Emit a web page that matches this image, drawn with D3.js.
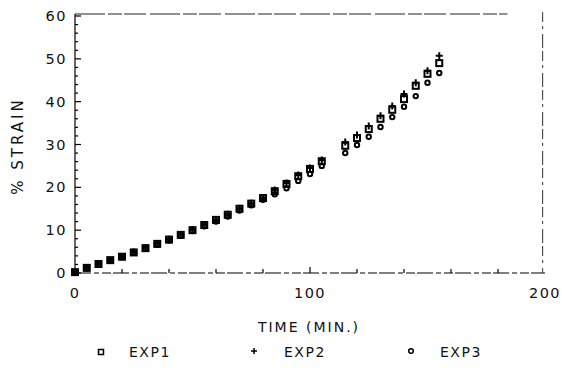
<!DOCTYPE html>
<html>
<head>
<meta charset="utf-8">
<script src="https://cdn.jsdelivr.net/npm/d3@7"></script>
<style>
  body{margin:0;background:#fff;}
  svg text{font-family:"DejaVu Sans",sans-serif;fill:#111;}
</style>
</head>
<body>
<div id="chart"></div>
<script>
// time (min) for every reading, t=110 has no reading
var times=[0,5,10,15,20,25,30,35,40,45,50,55,60,65,70,75,80,85,90,95,100,105,115,120,125,130,135,140,145,150,155];
var exp1=[0.2,1.2,2.1,3.0,3.8,4.8,5.8,6.8,7.8,8.9,10.0,11.2,12.4,13.6,15.0,16.2,17.5,19.1,20.8,22.6,24.3,26.1,29.7,31.5,33.6,36.0,38.1,40.6,43.7,46.5,49.0];
var exp2=[0.2,1.2,2.1,3.0,3.8,4.9,5.9,6.9,7.9,9.0,10.1,11.3,12.5,13.7,15.1,16.3,17.6,19.4,21.0,22.9,24.5,26.4,30.6,32.2,34.3,36.7,39.0,41.8,44.4,47.2,50.7];
var exp3=[0.2,1.1,2.0,2.9,3.7,4.7,5.7,6.6,7.6,8.7,9.8,10.9,12.0,13.2,14.6,15.8,17.1,18.4,19.8,21.5,23.1,25.0,28.0,29.9,31.8,34.1,36.4,38.8,41.3,44.4,46.7];
var yTicks=[0,10,20,30,40,50,60];
var xTicks=[0,100,200];
var seriesNames=['EXP1','EXP2','EXP3'];

var width=562, height=378;
var svg=d3.select('#chart').append('svg')
  .attr('width',width)
  .attr('height',height);

var x=d3.scaleLinear().domain([0,200]).range([75,545]);
var y=d3.scaleLinear().domain([0,60]).range([273,16]);

// frame: left solid, others broken like the scan
svg.append('line')
  .attr('x1',x(0)).attr('x2',x(0))
  .attr('y1',y(0)).attr('y2',y(60)-2)
  .attr('stroke','#000').attr('stroke-width',1.2);
svg.append('line')
  .attr('x1',x(0)).attr('x2',x(200))
  .attr('y1',y(0)).attr('y2',y(0))
  .attr('stroke','#000').attr('stroke-width',1.2)
  .attr('stroke-dasharray','16,3,5,3,9,2');
svg.append('line')
  .attr('x1',x(0)).attr('x2',x(184))
  .attr('y1',y(60)-2).attr('y2',y(60)-2)
  .attr('stroke','#222').attr('stroke-width',1)
  .attr('stroke-dasharray','30,3,14,2,22,4');
svg.append('line')
  .attr('x1',x(199)).attr('x2',x(199))
  .attr('y1',y(60)-4).attr('y2',y(0))
  .attr('stroke','#333').attr('stroke-width',1)
  .attr('stroke-dasharray','10,4,3,5,14,3');

// left ticks, pointing inward
var yMinor=d3.range(0,61,2);
svg.selectAll('.ytick')
  .data(yMinor)
  .enter()
  .append('line')
  .attr('class','ytick')
  .attr('x1',x(0))
  .attr('x2',function(d){return d%10==0 ? x(0)+6 : x(0)+3;})
  .attr('y1',function(d){return y(d);})
  .attr('y2',function(d){return y(d);})
  .attr('stroke','#000').attr('stroke-width',1.2);

// bottom ticks, pointing up
var xMinor=d3.range(20,200,20);
svg.selectAll('.xtick')
  .data(xMinor)
  .enter()
  .append('line')
  .attr('class','xtick')
  .attr('x1',function(d){return x(d);})
  .attr('x2',function(d){return x(d);})
  .attr('y1',y(0))
  .attr('y2',function(d){return d%100==0 ? y(0)-6 : y(0)-4;})
  .attr('stroke','#000').attr('stroke-width',1.2);

svg.selectAll('.ylab')
  .data(yTicks)
  .enter()
  .append('text')
  .attr('class','ylab')
  .attr('x',67)
  .attr('y',function(d){return y(d)+5;})
  .attr('text-anchor','end')
  .attr('font-size',14.5)
  .attr('letter-spacing',1.5)
  .text(function(d){return d;});

svg.selectAll('.xlab')
  .data(xTicks)
  .enter()
  .append('text')
  .attr('class','xlab')
  .attr('x',function(d){return x(d);})
  .attr('y',298)
  .attr('text-anchor','middle')
  .attr('font-size',14.5)
  .attr('letter-spacing',1.5)
  .text(function(d){return d;});

svg.append('text')
  .attr('x',309).attr('y',332)
  .attr('text-anchor','middle')
  .attr('font-size',14)
  .attr('letter-spacing',2)
  .text('TIME  (MIN.)');

svg.append('text')
  .attr('transform','translate(23,146) rotate(-90)')
  .attr('text-anchor','middle')
  .attr('font-size',15)
  .attr('letter-spacing',3)
  .text('% STRAIN');

// markers
function drawSquare(g,cx,cy,s,w){
  g.append('rect')
    .attr('x',cx-s/2).attr('y',cy-s/2)
    .attr('width',s).attr('height',s)
    .attr('fill','none').attr('stroke','#000').attr('stroke-width',w);
}
function drawPlus(g,cx,cy,s,w){
  g.append('path')
    .attr('d','M'+(cx-s)+','+cy+'H'+(cx+s)+'M'+cx+','+(cy-s)+'V'+(cy+s))
    .attr('stroke','#000').attr('stroke-width',w);
}
function drawCircle(g,cx,cy,r,w){
  g.append('circle')
    .attr('cx',cx).attr('cy',cy).attr('r',r)
    .attr('fill','none').attr('stroke','#000').attr('stroke-width',w);
}

var pts=svg.append('g');
times.forEach(function(t,i){
  drawSquare(pts,x(t),y(exp1[i]),6,2);
  drawPlus(pts,x(t),y(exp2[i]),3.5,2);
  drawCircle(pts,x(t),y(exp3[i]),2.2,2);
});

// legend
var leg=svg.append('g');
drawSquare(leg,101,352,5,1.5);
drawPlus(leg,254,351,3,1.5);
drawCircle(leg,411,351,2.3,1.5);
var legX=[129,284,440];
leg.selectAll('text')
  .data(seriesNames)
  .enter()
  .append('text')
  .attr('x',function(d,i){return legX[i];})
  .attr('y',357)
  .attr('font-size',14)
  .attr('letter-spacing',1.5)
  .text(function(d){return d;});
</script>
</body>
</html>
